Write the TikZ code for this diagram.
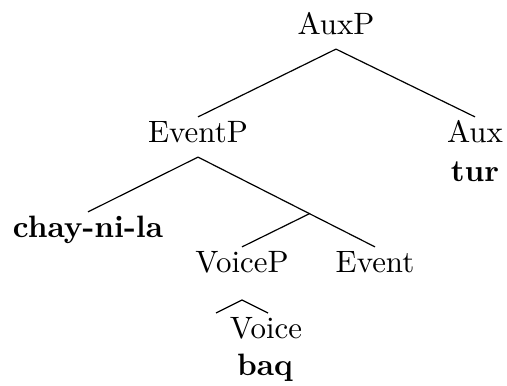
\documentclass[tikz,border=0pt]{standalone}
\usetikzlibrary{calc}
\begin{document}
\begin{tikzpicture}[x=0.3333pt,y=-0.3333pt,
  lbl/.style={anchor=base, inner sep=1.5pt, text height=7pt, text depth=3pt, font=\fontsize{10.3pt}{12pt}\selectfont},
  edge/.style={line width=0.4pt}]
\useasboundingbox (0,0) rectangle (507,386);
\node[lbl] (auxp) at (336,35) {AuxP};
\node[lbl] (eventp) at (198,143) {EventP};
\node[lbl] (aux) at (475,143) {Aux};
\node[lbl] (tur) at (475,182) {\textbf{tur}};
\node[lbl] (chay) at (88,238) {\textbf{chay-ni-la}};
\node[lbl] (voicep) at (242,273) {VoiceP};
\node[lbl] (event) at (375,273) {Event};
\node[lbl] (voice) at (266,339) {Voice};
\node[lbl] (baq) at (265,376) {\textbf{baq}};
\coordinate (br) at ($(eventp.south)!0.63!(event.north)$);
\coordinate (roofL) at (216,313);
\coordinate (roofT) at (242,300);
\coordinate (roofR) at (268,313);
\draw[edge] (auxp.south) -- (eventp.north);
\draw[edge] (auxp.south) -- (aux.north);
\draw[edge] (eventp.south) -- (chay.north);
\draw[edge] (eventp.south) -- (event.north);
\draw[edge] (br) -- (voicep.north);
\draw[edge] (roofL) -- (roofT) -- (roofR);
\end{tikzpicture}
\end{document}
